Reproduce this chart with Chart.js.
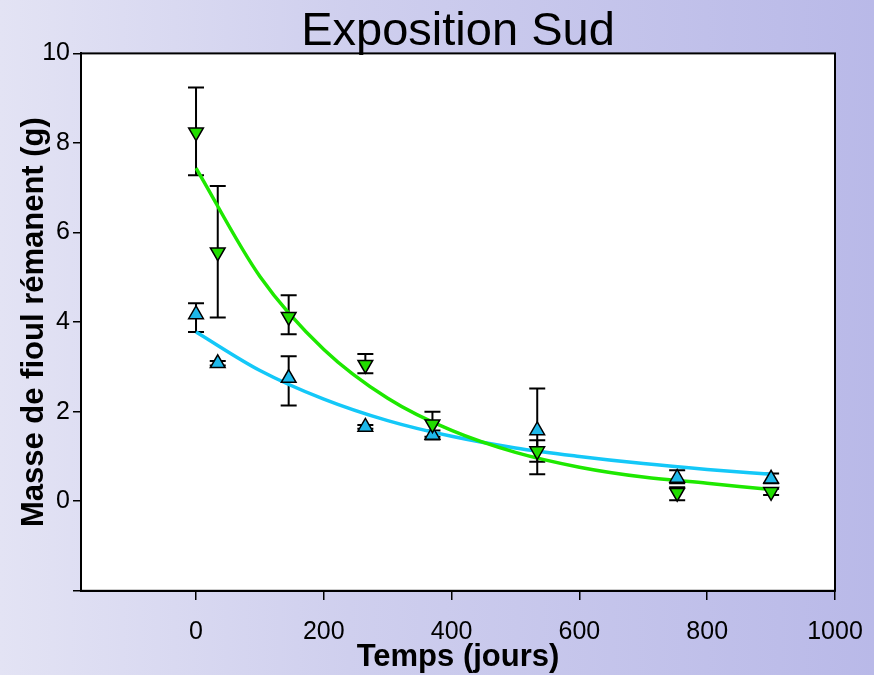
<!DOCTYPE html>
<html>
<head>
<meta charset="utf-8">
<script src="https://cdn.jsdelivr.net/npm/chart.js@4/dist/chart.umd.min.js"></script>
<style>
    html, body { margin: 0; padding: 0; }
    body {
        width: 874px;
        height: 675px;
        background: linear-gradient(to right, #e3e3f4 0%, #cfcfee 40%, #b9b9e8 100%);
    }
    #wrap { width: 874px; height: 675px; position: relative; }
</style>
</head>
<body>
<div id="wrap"><canvas id="chart"></canvas></div>
<script>
// measurement days
const days = [0, 34, 145, 265, 370, 534, 753, 900];

// down triangles (green)
const greenMean = [8.24, 5.56, 4.12, 3.05, 1.72, 1.12, 0.19, 0.21];
const greenHigh = [9.24, 7.04, 4.60, 3.29, 2.00, 1.36, 0.31, 0.28];
const greenLow = [7.28, 4.10, 3.73, 2.86, 1.44, 0.88, 0.02, 0.14];

// up triangles (cyan)
const cyanMean = [4.17, 3.08, 2.75, 1.66, 1.48, 1.58, 0.52, 0.50];
const cyanHigh = [4.42, 3.13, 3.24, 1.70, 1.58, 2.52, 0.69, 0.62];
const cyanLow = [3.78, 3.03, 2.14, 1.62, 1.38, 0.60, 0.40, 0.40];

// fitted curves
const fitDays = [0, 100, 200, 300, 400, 500, 600, 700, 800, 900];
const greenFit = [7.44, 5.02, 3.39, 2.30, 1.58, 1.09, 0.76, 0.54, 0.40, 0.26];
const cyanFit = [3.78, 2.92, 2.28, 1.80, 1.45, 1.19, 1.00, 0.84, 0.71, 0.60];

const xTicks = [0, 200, 400, 600, 800, 1000];
const yTicks = [-2, 0, 2, 4, 6, 8, 10];

const toPoints = (xs, ys) => xs.map((x, i) => ({ x: x, y: ys[i] }));

const errorBars = {
    id: 'errorBars',
    beforeDatasetsDraw(chart) {
        const ctx = chart.ctx;
        const xs = chart.scales.x;
        const ys = chart.scales.y;
        const sets = [[greenLow, greenHigh], [cyanLow, cyanHigh]];
        ctx.save();
        ctx.strokeStyle = '#000';
        ctx.lineWidth = 2;
        sets.forEach(([low, high]) => {
            days.forEach((d, i) => {
                const px = xs.getPixelForValue(d);
                const top = ys.getPixelForValue(high[i]);
                const bot = ys.getPixelForValue(low[i]);
                ctx.beginPath();
                ctx.moveTo(px, top);
                ctx.lineTo(px, bot);
                ctx.moveTo(px - 8, top);
                ctx.lineTo(px + 8, top);
                ctx.moveTo(px - 8, bot);
                ctx.lineTo(px + 8, bot);
                ctx.stroke();
            });
        });
        ctx.restore();
    }
};

const plotFrame = {
    id: 'plotFrame',
    beforeDraw(chart) {
        const { ctx, chartArea: a } = chart;
        ctx.save();
        ctx.fillStyle = '#fff';
        ctx.fillRect(a.left, a.top, a.right - a.left, a.bottom - a.top);
        ctx.restore();
    },
    afterDraw(chart) {
        const { ctx, chartArea: a } = chart;
        ctx.save();
        ctx.strokeStyle = '#000';
        ctx.lineWidth = 2;
        ctx.strokeRect(a.left, a.top, a.right - a.left, a.bottom - a.top);
        ctx.restore();
    }
};

Chart.defaults.font.family = "'Liberation Sans', Arial, sans-serif";
Chart.defaults.color = '#000';

new Chart(document.getElementById('chart'), {
    type: 'scatter',
    data: {
        datasets: [
            {
                type: 'line',
                data: toPoints(fitDays, greenFit),
                borderColor: '#1ee800',
                borderWidth: 3.5,
                pointRadius: 0,
                cubicInterpolationMode: 'monotone',
                order: 2,
            },
            {
                type: 'line',
                data: toPoints(fitDays, cyanFit),
                borderColor: '#14c8f8',
                borderWidth: 3.5,
                pointRadius: 0,
                cubicInterpolationMode: 'monotone',
                order: 2,
            },
            {
                data: toPoints(days, greenMean),
                pointStyle: 'triangle',
                rotation: 180,
                pointRadius: 8.5,
                backgroundColor: '#22dd00',
                borderColor: '#000',
                borderWidth: 1.5,
                order: 1,
            },
            {
                data: toPoints(days, cyanMean),
                pointStyle: 'triangle',
                pointRadius: 8.5,
                backgroundColor: '#1eb8ea',
                borderColor: '#000',
                borderWidth: 1.5,
                order: 1,
            },
        ],
    },
    options: {
        responsive: true,
        maintainAspectRatio: false,
        animation: false,
        layout: { padding: { top: 0, right: 39, bottom: 2, left: 2 } },
        plugins: {
            legend: { display: false },
            tooltip: { enabled: false },
            title: {
                display: true,
                fullSize: false,
                text: 'Exposition Sud',
                font: { size: 47, weight: 'normal' },
                color: '#000',
                padding: { top: 4, bottom: -7 },
            },
        },
        scales: {
            x: {
                type: 'linear',
                min: -180,
                max: 1000,
                afterBuildTicks: (scale) => { scale.ticks = xTicks.map((v) => ({ value: v })); },
                grid: {
                    display: true,
                    drawOnChartArea: false,
                    tickLength: 22,
                    tickBorderDash: [8, 60],
                    color: '#000',
                    lineWidth: 1.5,
                },
                border: { display: true, color: '#000', width: 2 },
                ticks: {
                    font: { size: 25 },
                    color: '#000',
                    padding: 4,
                    maxRotation: 0,
                    callback: (v) => String(v),
                },
                title: {
                    display: true,
                    text: 'Temps (jours)',
                    font: { size: 31, weight: 'bold' },
                    color: '#000',
                    padding: { top: -12, bottom: -3 },
                },
            },
            y: {
                type: 'linear',
                min: -2,
                max: 10,
                afterBuildTicks: (scale) => { scale.ticks = yTicks.map((v) => ({ value: v })); },
                grid: { display: true, drawOnChartArea: false, tickLength: 8, color: '#000', lineWidth: 1.5 },
                border: { display: true, color: '#000', width: 2 },
                ticks: {
                    font: { size: 25 },
                    color: '#000',
                    padding: 3,
                    callback: (v) => (v === -2 ? '' : String(v)),
                },
                title: {
                    display: true,
                    text: 'Masse de fioul rémanent (g)',
                    font: { size: 31, weight: 'bold' },
                    color: '#000',
                    padding: { top: 14, bottom: -14 },
                },
            },
        },
    },
    plugins: [plotFrame, errorBars],
});
</script>
</body>
</html>
